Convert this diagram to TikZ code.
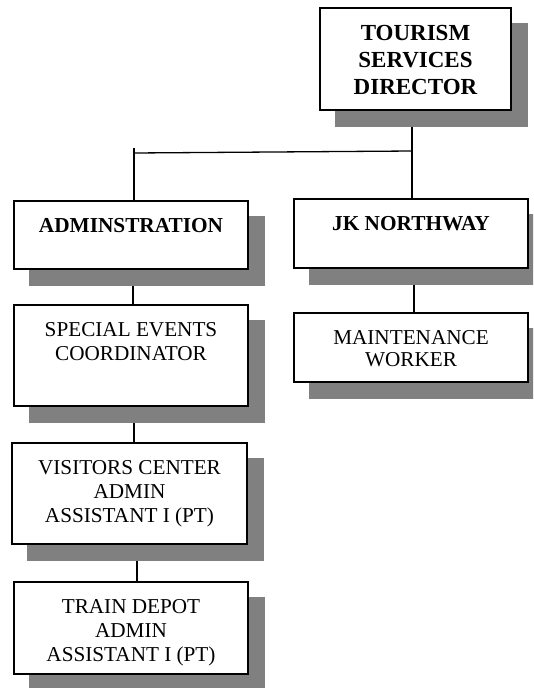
\documentclass[tikz,border=0pt]{standalone}
\usepackage{fontspec}
\setmainfont{Liberation Serif}
\pgfdeclarelayer{background}
\pgfsetlayers{background,main}
\definecolor{shadowgray}{HTML}{808080}
\tikzset{
  orgframe/.style={draw=black, line width=1.8pt, fill=white, inner sep=0pt, outer sep=0pt, anchor=north west},
  boxtext/.style={inner sep=0pt, align=center, anchor=north, text=black},
  link/.style={draw=black, line width=1.3pt},
  titlefont/.style={font=\fontsize{23}{27}\selectfont\bfseries},
  headfont/.style={font=\fontsize{21.3}{24}\selectfont\bfseries},
  plainfont/.style={font=\fontsize{21.2}{24}\selectfont},
  tightfont/.style={font=\fontsize{21.2}{22.5}\selectfont}
}
% #1 name, #2-#5 corners (x1,y1,x2,y2), #6 font style, #7 text
\newcommand{\orgunit}[7]{%
  \fill[shadowgray] (#2+15,#3+15) rectangle (#4+17,#5+17);
  \node[orgframe, minimum width={(#4-#2)*1pt}, minimum height={(#5-#3)*1pt}] (#1) at (#2,#3) {};
  \node[boxtext, #6] (#1-text) at ([yshift=-17pt]#1.north) {#7};
}
\begin{document}
\begin{tikzpicture}[x=1pt, y=-1pt]
  \useasboundingbox (0,0) rectangle (533,688);
  \clip (0,0) rectangle (533,688);

  \orgunit{dir}{320}{8}{511}{110}{titlefont}{TOURISM\\SERVICES\\DIRECTOR}
  \orgunit{adm}{14}{201}{248}{269}{headfont}{ADMINSTRATION}
  \orgunit{jk}{294}{199}{528}{268}{headfont}{JK NORTHWAY}
  \orgunit{sec}{14}{305}{248}{406}{plainfont}{SPECIAL EVENTS\\COORDINATOR}
  \orgunit{vca}{12}{443}{247}{544}{plainfont}{VISITORS CENTER\\ADMIN\\ASSISTANT I (PT)}
  \orgunit{tda}{14}{582}{248}{674}{plainfont}{TRAIN DEPOT\\ADMIN\\ASSISTANT I (PT)}
  \orgunit{mw}{294}{313}{528}{382}{tightfont}{MAINTENANCE\\WORKER}

  % connectors sit underneath the shadows and boxes
  \coordinate (branchR) at (412,151);
  \coordinate (branchL) at (134,153);
  \coordinate (tick) at (134,148);
  \begin{pgfonlayer}{background}
    \fill[white] (0,0) rectangle (533,688);
    \draw[link] ([xshift=1pt]jk.north) -- ([xshift=1pt]jk.north |- dir.south);
    \draw[link] ([xshift=1.8pt]jk.north |- branchR) -- ++(0,19);
    \draw[link] (branchL) -- (branchR);
    \draw[link] (tick) -- (tick |- adm.north);
    \draw[link] ([xshift=2pt]sec.north) -- ([xshift=2pt]sec.north |- adm.south);
    \draw[link] ([xshift=4.5pt]vca.north) -- ([xshift=4.5pt]vca.north |- sec.south);
    \draw[link] ([xshift=6pt]tda.north) -- ([xshift=6pt]tda.north |- vca.south);
    \draw[link] ([xshift=3pt]mw.north) -- ([xshift=3pt]mw.north |- jk.south);
  \end{pgfonlayer}
\end{tikzpicture}
\end{document}
